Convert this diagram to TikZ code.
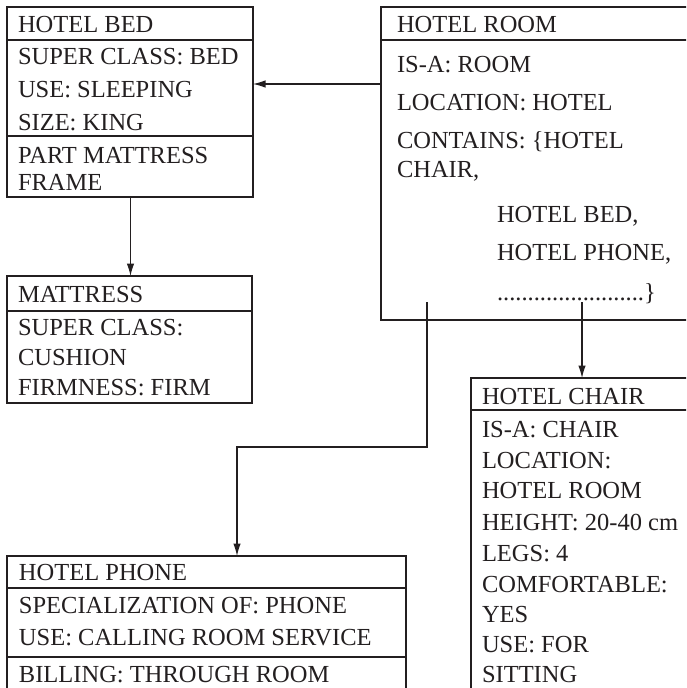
\documentclass[tikz,border=0pt]{standalone}
\usepackage{fontspec}
\setmainfont{Liberation Serif}
\usetikzlibrary{arrows.meta}
\definecolor{ink}{HTML}{231F20}
\begin{document}
\begin{tikzpicture}[x=1pt,y=-1pt,
  frame/.style={draw=ink,line width=1.1pt,rectangle,inner sep=0pt,outer sep=0pt,anchor=north west},
  txt/.style={anchor=base west,inner sep=0pt,outer sep=0pt,text=ink,font=\fontsize{24.5}{28}\selectfont},
  rule/.style={draw=ink,line width=1.1pt},
  arr/.style={draw=ink,line width=1.1pt,-{Latex[length=12.5pt,width=7.5pt]}}]
\clip (0,0) rectangle (686,688);
\fill[white] (0,0) rectangle (686,688);

% ---- HOTEL BED ----
\node[frame,minimum width=246pt,minimum height=190pt] (bed) at (7,7) {};
\draw[rule] ([yshift=-33pt]bed.north west) -- ([yshift=-33pt]bed.north east);
\draw[rule] ([yshift=-129pt]bed.north west) -- ([yshift=-129pt]bed.north east);
\node[txt] (bed-title) at (18,32) {HOTEL BED};
\node[txt] (bed-a) at (18,64) {SUPER CLASS: BED};
\node[txt] (bed-b) at (18,97) {USE: SLEEPING};
\node[txt] (bed-c) at (18,130) {SIZE: KING};
\node[txt] (bed-d) at (18,163) {PART MATTRESS};
\node[txt] (bed-e) at (18,190) {FRAME};

% ---- MATTRESS ----
\node[frame,minimum width=245pt,minimum height=127pt] (mat) at (7,276) {};
\draw[rule] ([yshift=-35pt]mat.north west) -- ([yshift=-35pt]mat.north east);
\node[txt] (mat-title) at (18,302) {MATTRESS};
\node[txt] (mat-a) at (18,335) {SUPER CLASS:};
\node[txt] (mat-b) at (18,365) {CUSHION};
\node[txt] (mat-c) at (18,395) {FIRMNESS: FIRM};

% ---- HOTEL ROOM ----
\node[frame,minimum width=330pt,minimum height=313pt] (room) at (381,7) {};
\draw[rule] ([yshift=-33pt]room.north west) -- ([yshift=-33pt]room.north east);
\node[txt] (room-title) at (397,32) {HOTEL ROOM};
\node[txt] (room-a) at (397,72) {IS-A: ROOM};
\node[txt] (room-b) at (397,110) {LOCATION: HOTEL};
\node[txt] (room-c) at (397,148) {CONTAINS: \{HOTEL};
\node[txt] (room-d) at (397,177) {CHAIR,};
\node[txt] (room-e) at (497,222) {HOTEL BED,};
\node[txt] (room-f) at (497,260) {HOTEL PHONE,};
\node[txt] (room-g) at (497,300) {........................\}};

% ---- HOTEL CHAIR ----
\node[frame,minimum width=260pt,minimum height=340pt] (chair) at (471,378) {};
\draw[rule] ([yshift=-32pt]chair.north west) -- ([yshift=-32pt]chair.north east);
\node[txt] (chair-title) at (482,404) {HOTEL CHAIR};
\node[txt] (chair-a) at (482,437) {IS-A: CHAIR};
\node[txt] (chair-b) at (482,468) {LOCATION:};
\node[txt] (chair-c) at (482,498) {HOTEL ROOM};
\node[txt] (chair-d) at (482,530) {HEIGHT: 20-40 cm};
\node[txt] (chair-e) at (482,561) {LEGS: 4};
\node[txt] (chair-f) at (482,592) {COMFORTABLE:};
\node[txt] (chair-g) at (482,622) {YES};
\node[txt] (chair-h) at (482,652) {USE: FOR};
\node[txt] (chair-i) at (482,682) {SITTING};

% ---- HOTEL PHONE ----
\node[frame,minimum width=399pt,minimum height=200pt] (phone) at (7,556) {};
\draw[rule] ([yshift=-32pt]phone.north west) -- ([yshift=-32pt]phone.north east);
\draw[rule] ([yshift=-101pt]phone.north west) -- ([yshift=-101pt]phone.north east);
\node[txt] (phone-title) at (19,580) {HOTEL PHONE};
\node[txt] (phone-a) at (19,613) {SPECIALIZATION OF: PHONE};
\node[txt] (phone-b) at (19,645) {USE: CALLING ROOM SERVICE};
\node[txt] (phone-c) at (19,682) {BILLING: THROUGH ROOM};

% ---- connectors ----
\coordinate (bm) at (130.5,0);
\coordinate (rc) at (582,302);
\coordinate (rp) at (427,302);
\coordinate (bend) at (237,447);
\draw[arr] ([yshift=-77pt]room.north west) -- ([yshift=-77pt]bed.north east);
\draw[arr] (bed.south -| bm) -- (mat.north -| bm);
\draw[arr] (rc) -- (chair.north -| rc);
\draw[arr] (rp) |- (bend) -- (phone.north -| bend);
\end{tikzpicture}
\end{document}
